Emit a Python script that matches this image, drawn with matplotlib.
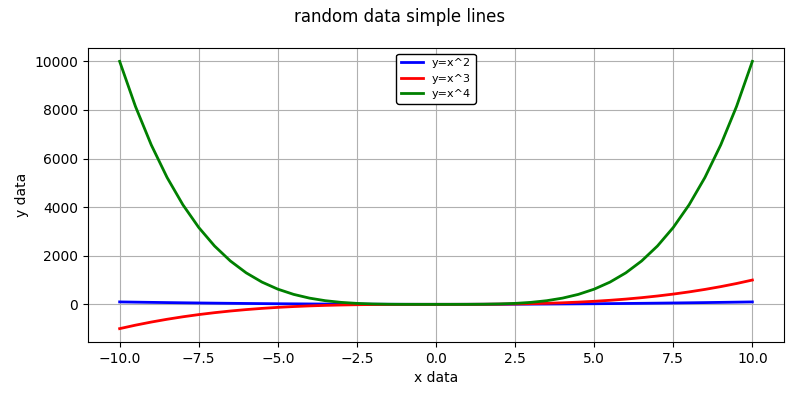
import matplotlib
matplotlib.use('Agg')
import matplotlib.pyplot as plt

# values, step 0.5
x = [-10, -9.5, -9, -8.5, -8, -7.5, -7, -6.5, -6, -5.5, -5, -4.5, -4, -3.5,
     -3, -2.5, -2, -1.5, -1, -0.5, 0, 0.5, 1, 1.5, 2, 2.5, 3, 3.5, 4, 4.5,
     5, 5.5, 6, 6.5, 7, 7.5, 8, 8.5, 9, 9.5, 10]
y_sq = [100, 90.25, 81, 72.25, 64, 56.25, 49, 42.25, 36, 30.25, 25, 20.25,
        16, 12.25, 9, 6.25, 4, 2.25, 1, 0.25, 0, 0.25, 1, 2.25, 4, 6.25, 9,
        12.25, 16, 20.25, 25, 30.25, 36, 42.25, 49, 56.25, 64, 72.25, 81,
        90.25, 100]
y_cube = [-1000, -857.375, -729, -614.125, -512, -421.875, -343, -274.625,
          -216, -166.375, -125, -91.125, -64, -42.875, -27, -15.625, -8,
          -3.375, -1, -0.125, 0, 0.125, 1, 3.375, 8, 15.625, 27, 42.875, 64,
          91.125, 125, 166.375, 216, 274.625, 343, 421.875, 512, 614.125,
          729, 857.375, 1000]
y_quad = [10000, 8145.0625, 6561, 5220.0625, 4096, 3164.0625, 2401,
          1785.0625, 1296, 915.0625, 625, 410.0625, 256, 150.0625, 81,
          39.0625, 16, 5.0625, 1, 0.0625, 0, 0.0625, 1, 5.0625, 16, 39.0625,
          81, 150.0625, 256, 410.0625, 625, 915.0625, 1296, 1785.0625, 2401,
          3164.0625, 4096, 5220.0625, 6561, 8145.0625, 10000]

fig, ax = plt.subplots(figsize=(8, 4), dpi=100)
ax.plot(x, y_sq, color='b', linewidth=2, label='y=x^2')
ax.plot(x, y_cube, color='r', linewidth=2, label='y=x^3')
ax.plot(x, y_quad, color='g', linewidth=2, label='y=x^4')
ax.grid(True)
ax.set_xlabel('x data')
ax.set_ylabel('y data')
leg = ax.legend(loc='upper center', fontsize=8)
leg.get_frame().set_edgecolor('black')
leg.get_frame().set_alpha(1)
fig.suptitle('random data simple lines')
plt.subplots_adjust(left=0.11, right=0.98, top=0.88, bottom=0.145)
fig.savefig('out.png', dpi=100)
